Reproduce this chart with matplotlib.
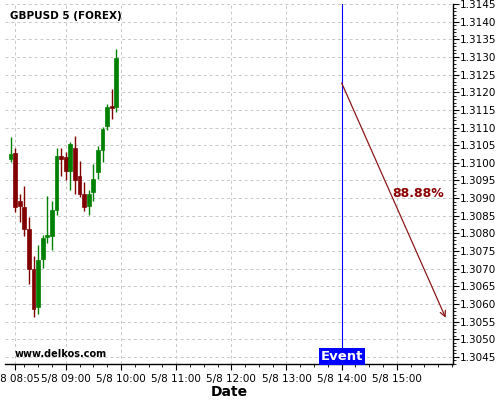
import matplotlib
matplotlib.use("Agg")
import matplotlib.pyplot as plt
from matplotlib.ticker import MultipleLocator, FixedLocator

# Time of each 5-min candle (minutes after midnight, 5/8)
times = [480 + 5 * i for i in range(24)]
opens  = [1.31010, 1.31028, 1.30892, 1.30875, 1.30813, 1.30699, 1.30592, 1.30728,
          1.30790, 1.30794, 1.30865, 1.31018, 1.31016, 1.30978, 1.31043, 1.30963,
          1.30912, 1.30877, 1.30916, 1.30973, 1.31035, 1.31103, 1.31160, 1.31158]
highs  = [1.31073, 1.31041, 1.30911, 1.30933, 1.30846, 1.30735, 1.30767, 1.30796,
          1.30905, 1.30892, 1.31041, 1.31043, 1.31031, 1.31060, 1.31075, 1.31005,
          1.30945, 1.30922, 1.30997, 1.31048, 1.31101, 1.31167, 1.31209, 1.31322]
lows   = [1.31003, 1.30862, 1.30833, 1.30794, 1.30658, 1.30564, 1.30573, 1.30703,
          1.30773, 1.30754, 1.30852, 1.30963, 1.30952, 1.30922, 1.30911, 1.30903,
          1.30863, 1.30852, 1.30892, 1.30954, 1.31001, 1.31094, 1.31124, 1.31143]
closes = [1.31026, 1.30875, 1.30877, 1.30813, 1.30699, 1.30586, 1.30726, 1.30788,
          1.30796, 1.30865, 1.31020, 1.31012, 1.30978, 1.31052, 1.30952, 1.30911,
          1.30875, 1.30912, 1.30954, 1.31037, 1.31095, 1.31158, 1.31156, 1.31297]

xtick_pos = [485, 540, 600, 660, 720, 780, 840, 900]
xtick_labels = ["5/8 08:05", "5/8 09:00", "5/8 10:00", "5/8 11:00",
                "5/8 12:00", "5/8 13:00", "5/8 14:00", "5/8 15:00"]

event_time = 840
arrow_start = (840, 1.31226)
arrow_end = (953, 1.30561)
pct_text = "88.88%"
pct_pos = (923, 1.30913)

up_color = "#008000"
down_color = "#800000"

fig = plt.figure(figsize=(5, 4), dpi=100)
ax = fig.add_axes([0.01, 0.09, 0.896, 0.90])

width = 4.3
for t, o, h, l, c in zip(times, opens, highs, lows, closes):
    col = up_color if c >= o else down_color
    ax.vlines(t, l, h, color=col, linewidth=1.0, zorder=3)
    bottom = min(o, c)
    height = max(abs(c - o), 0.000008)
    ax.bar(t, height, bottom=bottom, width=width, color=col, edgecolor=col,
           linewidth=0.5, zorder=4)

ax.set_xlim(474, 961)
ax.set_ylim(1.3043, 1.3145)

ax.yaxis.tick_right()
ax.yaxis.set_major_locator(MultipleLocator(0.0005))
ax.yaxis.set_minor_locator(MultipleLocator(0.0001))
ax.yaxis.set_major_formatter(matplotlib.ticker.FormatStrFormatter("%.4f"))
ax.xaxis.set_major_locator(FixedLocator(xtick_pos))
ax.set_xticklabels(xtick_labels)
ax.xaxis.set_minor_locator(FixedLocator([t for t in range(495, 961, 15) if t not in xtick_pos]))

ax.tick_params(axis="both", which="major", labelsize=7.5, length=4, width=0.8, colors="black")
ax.tick_params(axis="both", which="minor", length=2, width=0.6)
ax.tick_params(axis="y", pad=1)

ax.grid(True, which="major", linestyle=(0, (3, 3)), color="#c8c8c8", linewidth=0.7)
ax.set_axisbelow(True)

for s in ["left", "top"]:
    ax.spines[s].set_visible(False)
ax.spines["right"].set_linewidth(1.0)
ax.spines["bottom"].set_linewidth(1.0)

ax.set_xlabel("Date", fontsize=10, fontweight="bold")
ax.xaxis.set_label_coords(0.5, -0.058)

ax.text(0.012, 0.98, "GBPUSD 5 (FOREX)", transform=ax.transAxes, fontsize=7.5,
        fontweight="bold", ha="left", va="top")
ax.text(0.022, 0.028, "www.delkos.com", transform=ax.transAxes, fontsize=7,
        fontweight="bold", ha="left", va="center")

ax.axvline(event_time, color="#0000ff", linewidth=0.8, zorder=5)
ax.text(event_time, 1.30432, "Event", ha="center", va="bottom", fontsize=9.5,
        fontweight="bold", color="white", zorder=6,
        bbox=dict(boxstyle="square,pad=0.15", facecolor="#0000ff", edgecolor="none"))

ax.annotate("", xy=arrow_end, xytext=arrow_start,
            arrowprops=dict(arrowstyle="->", color="#8b1a1a", linewidth=0.9,
                            shrinkA=0, shrinkB=0, mutation_scale=10), zorder=6)
ax.text(pct_pos[0], pct_pos[1], pct_text, ha="center", va="center", fontsize=9,
        fontweight="bold", color="#8b0000", zorder=6)

fig.savefig("out.png", dpi=100)
